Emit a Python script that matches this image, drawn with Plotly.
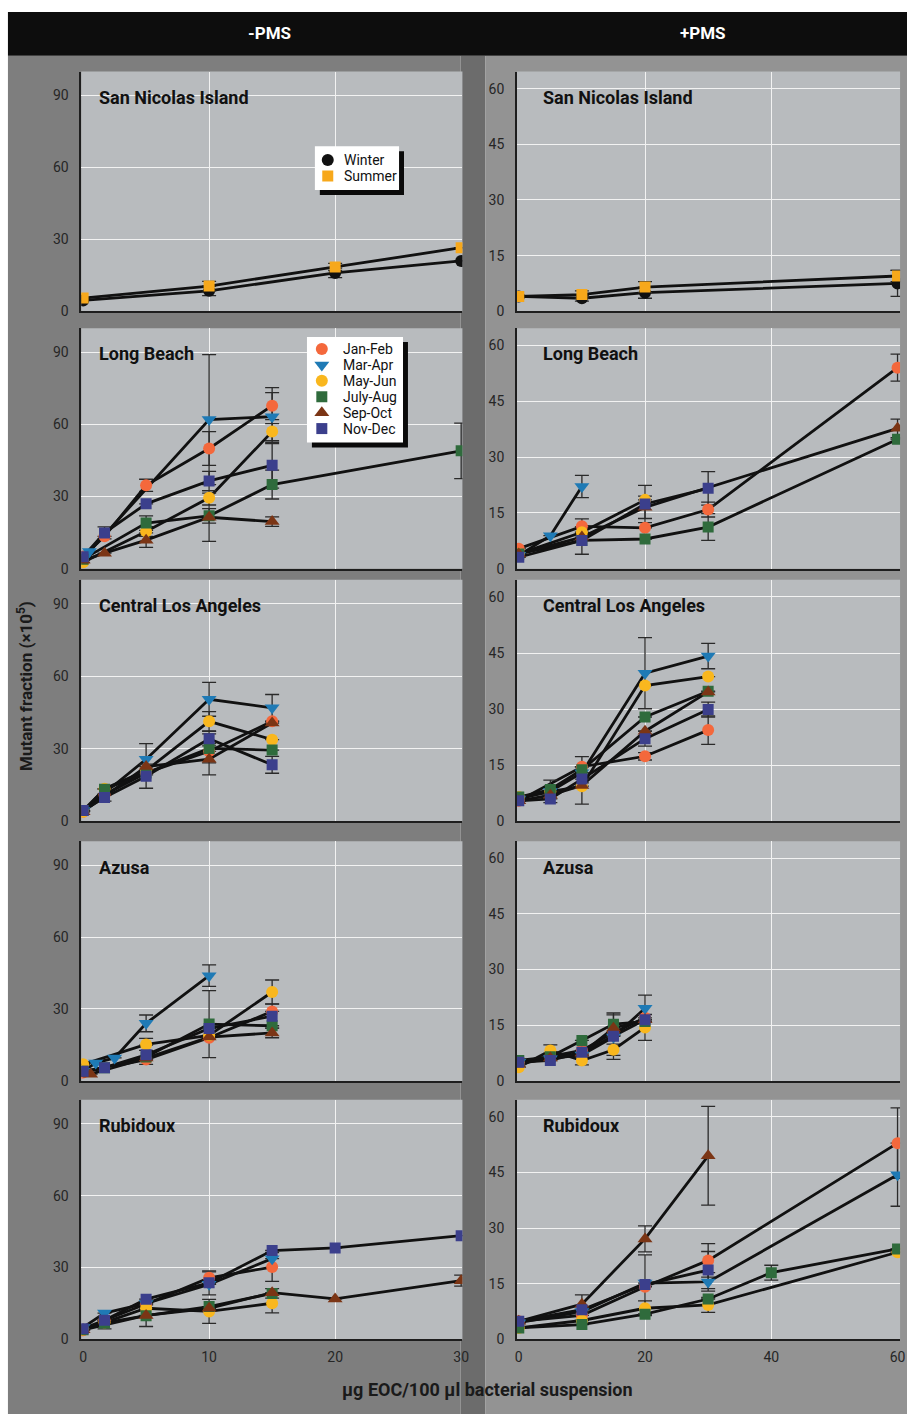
import plotly.graph_objects as go

W, H = 914, 1422

# ---------------- data ----------------
SEASONS = ["Jan-Feb", "Mar-Apr", "May-Jun", "July-Aug", "Sep-Oct", "Nov-Dec"]
SEASON_COLORS = ["#f4683c", "#1f7ab5", "#f9b71e", "#2f6b3c", "#7b3515", "#3b3f8c"]
SEASON_SYMBOLS = ["circle", "triangle-down", "circle", "square", "triangle-up", "square"]
WS_NAMES = ["Winter", "Summer"]
WS_COLORS = ["#111111", "#f7a81b"]
WS_SYMBOLS = ["circle", "square"]

SITES = ["San Nicolas Island", "Long Beach", "Central Los Angeles", "Azusa", "Rubidoux"]
LEFT_XTICKS = [0, 10, 20, 30]
RIGHT_XTICKS = [0, 20, 40, 60]
LEFT_YTICKS = [0, 30, 60, 90]
RIGHT_YTICKS = [0, 15, 30, 45, 60]

# each series: (x, y, error)
sn_minus = {
    "Winter": ([0, 10, 20, 30], [4.5, 8.5, 16, 21], [0, 2, 2, 0]),
    "Summer": ([0, 10, 20, 30], [5.5, 10.5, 18.5, 26.5], [0, 2, 1.5, 0]),
}
sn_plus = {
    "Winter": ([0, 10, 20, 60], [4, 3.5, 5, 7.5], [0, 0.8, 1.5, 3.5]),
    "Summer": ([0, 10, 20, 60], [4, 4.5, 6.5, 9.5], [0, 1, 1.5, 1.5]),
}
lb_minus = {
    "Jan-Feb": ([0, 1.7, 5, 10, 15], [5, 13.5, 34.7, 50, 67.8], [0, 0, 2.5, 7, 7.5]),
    "Mar-Apr": ([0, 0.5, 10, 15], [4, 7.2, 62, 63.2], [0, 0, 27, 10]),
    "May-Jun": ([0, 5, 10, 15], [2.7, 15.5, 29.5, 57], [0, 2, 3, 5]),
    "July-Aug": ([0, 5, 10, 15, 30], [4, 19, 22, 35, 49], [0, 3, 3, 6, 11.5]),
    "Sep-Oct": ([0, 1.7, 5, 10, 15], [3.5, 6.5, 11.9, 21.4, 19.6], [0, 0, 3, 10, 2]),
    "Nov-Dec": ([0, 1.7, 5, 10, 15], [5, 14.9, 27, 36.5, 43], [0, 2.5, 0, 4, 9.5]),
}
lb_plus = {
    "Jan-Feb": ([0, 10, 20, 30, 60], [5.4, 11.4, 11, 15.9, 54], [0, 2, 0, 2, 3.6]),
    "Mar-Apr": ([0, 5, 10], [3.6, 8.9, 22.1], [0, 0, 3]),
    "May-Jun": ([0, 10, 20], [4, 9.8, 18.5], [0, 0, 0]),
    "July-Aug": ([0, 10, 20, 30, 60], [4, 7.6, 8, 11.2, 34.8], [0, 0, 0, 3.6, 0]),
    "Sep-Oct": ([0, 10, 20, 60], [4, 8.5, 16.5, 37.7], [0, 0, 3, 2.5]),
    "Nov-Dec": ([0, 10, 20, 30], [3.1, 7.6, 17.4, 21.6], [0, 3.7, 5, 4.5]),
}
cla_minus = {
    "Jan-Feb": ([0, 1.7, 5, 10, 15], [4, 11, 20, 29, 41.4], [0, 0, 0, 0, 0]),
    "Mar-Apr": ([0, 5, 10, 15], [4.5, 25.7, 50.5, 47], [0, 6.5, 7, 5.5]),
    "May-Jun": ([0, 1.7, 5, 10, 15], [4, 13.5, 21, 41.4, 33.8], [0, 0, 0, 4, 0]),
    "July-Aug": ([0, 1.7, 5, 10, 15], [4.5, 13.3, 20, 30.2, 29.5], [0, 0, 0, 6, 0]),
    "Sep-Oct": ([0, 5, 10, 15], [4, 22.7, 25.7, 40.7], [0, 0, 6.5, 0]),
    "Nov-Dec": ([0, 1.7, 5, 10, 15], [4.5, 9.9, 18.7, 34.2, 23.4], [0, 1.5, 5, 3, 3.5]),
}
cla_plus = {
    "Jan-Feb": ([0, 10, 20, 30], [5.5, 14.6, 17.4, 24.4], [0, 0, 1, 3.8]),
    "Mar-Apr": ([0, 5, 10, 20, 30], [6, 8, 13, 39.6, 44.2], [0, 0, 0, 9.5, 3.4]),
    "May-Jun": ([0, 5, 10, 20, 30], [6.5, 8, 9.4, 36.3, 38.7], [0, 0, 0, 0, 0]),
    "July-Aug": ([0, 5, 10, 20, 30], [6.5, 8.5, 13.8, 27.9, 34.8], [0, 2.5, 3.5, 0, 0]),
    "Sep-Oct": ([0, 5, 10, 20, 30], [5.5, 7, 9.6, 24.1, 34.6], [0, 0, 5, 0, 0]),
    "Nov-Dec": ([0, 5, 10, 20, 30], [5.5, 6, 11.3, 22.1, 29.9], [0, 1, 0, 2, 2]),
}
az_minus = {
    "Jan-Feb": ([0, 5, 10, 15], [3.5, 8.9, 18, 29], [0, 0, 0, 0]),
    "Mar-Apr": ([0, 1, 2.5, 5, 10], [4, 7.5, 9.6, 24, 43.9], [0, 0, 0, 3.5, 4.5]),
    "May-Jun": ([0, 5, 10, 15], [6.9, 15.2, 19, 37.1], [0, 2.5, 0, 5]),
    "July-Aug": ([0, 1.7, 5, 10, 15], [4, 5.5, 10, 23.7, 23], [0, 0, 0, 14, 0]),
    "Sep-Oct": ([0, 0.6, 5, 10, 15], [3, 2.8, 9.5, 18.3, 20], [0, 0, 0, 0, 2]),
    "Nov-Dec": ([0, 1.7, 5, 10, 15], [4, 5.5, 10.9, 21.9, 27], [0, 0, 4, 0, 5]),
}
az_plus = {
    "Jan-Feb": ([0, 5, 10, 15, 20], [5, 6.6, 8.2, 13, 17], [0, 0, 0, 0, 0]),
    "Mar-Apr": ([0, 5, 10, 15, 20], [5, 6, 7, 11.8, 19.6], [0, 0, 0, 6, 3.5]),
    "May-Jun": ([0, 5, 10, 15, 20], [3.7, 8.2, 5.5, 8.4, 14.4], [0, 1.5, 1.2, 1.5, 3.5]),
    "July-Aug": ([0, 5, 10, 15, 20], [5.5, 6.5, 10.9, 15.3, 16], [0, 0, 0, 3, 0]),
    "Sep-Oct": ([0, 5, 10, 15, 20], [4.5, 6.2, 7.5, 14.2, 16.5], [0, 0, 0, 0, 0]),
    "Nov-Dec": ([0, 5, 10, 15, 20], [5, 5.5, 7.7, 12, 16.5], [0, 0, 0, 0, 0]),
}
rb_minus = {
    "Jan-Feb": ([0, 1.7, 5, 10, 15], [3.8, 8, 14.8, 25.7, 30.2], [0, 0, 0, 2.5, 6]),
    "Mar-Apr": ([0, 1.7, 5, 10, 15], [5, 11, 15, 23, 33.7], [0, 0, 0, 0, 0]),
    "May-Jun": ([0, 1.7, 5, 10, 15], [4, 7.1, 13, 11.7, 15.1], [0, 0, 0, 5, 4]),
    "July-Aug": ([0, 1.7, 5, 10, 15], [4, 6.9, 9.9, 13.7, 19.2], [0, 2.5, 4.5, 0, 2]),
    "Sep-Oct": ([0, 5, 10, 15, 20, 30], [4, 10, 13, 19.5, 16.9, 24.5], [0, 0, 0, 0, 0, 2.3]),
    "Nov-Dec": ([0, 1.7, 5, 10, 15, 20, 30], [4.5, 8, 16.8, 23.6, 37.1, 38.2, 43.3], [0, 0, 0, 5, 0, 0, 0]),
}
rb_plus = {
    "Jan-Feb": ([0, 10, 20, 30, 60], [4.9, 6.5, 14.2, 21.3, 52.9], [0, 0, 0, 4.5, 9.5]),
    "Mar-Apr": ([0, 10, 20, 30, 60], [4.5, 7.5, 15.2, 15.5, 44.4], [0, 0, 0, 2.5, 8.5]),
    "May-Jun": ([0, 10, 20, 30, 60], [3.1, 5.1, 8.4, 9.3, 23.5], [0, 0, 2, 2, 0]),
    "July-Aug": ([0, 10, 20, 30, 40, 60], [3.1, 4, 6.8, 10.9, 18, 24.4], [0, 0, 0, 0, 2, 0]),
    "Sep-Oct": ([0, 10, 20, 30], [4.9, 9.5, 27.1, 49.5], [0, 2.5, 3.5, 13.3]),
    "Nov-Dec": ([0, 10, 20, 30], [4.9, 8, 14.8, 18.7], [0, 0, 8, 5]),
}

PANEL_DATA = [
    (sn_minus, sn_plus),
    (lb_minus, lb_plus),
    (cla_minus, cla_plus),
    (az_minus, az_plus),
    (rb_minus, rb_plus),
]

# ---------------- layout geometry (pixels) ----------------
ROWS = [(72, 313), (330, 572), (583, 826), (846, 1087), (1106, 1347)]
COLS = [(80, 465), (520, 907)]
XRANGES = [[-0.15, 30.1], [-0.3, 60.4]]
YRANGES = [[0, 100], [0, 64.6]]

FONT = "Roboto, Liberation Sans, Arial, sans-serif"
TICK_FONT = dict(family=FONT, size=14, color="#262626")


def px(x):
    return x / W


def py(y):
    return 1 - y / H


def style_for(name):
    if name in SEASONS:
        i = SEASONS.index(name)
        return SEASON_COLORS[i], SEASON_SYMBOLS[i]
    i = WS_NAMES.index(name)
    return WS_COLORS[i], WS_SYMBOLS[i]


def msize(symbol):
    if symbol.startswith("triangle"):
        return 13
    if symbol == "square":
        return 11
    return 12


fig = go.Figure()
layout = {}
shapes = []
annotations = []


def add_text(x, y, text, size, color="#111111", xanchor="center", yanchor="middle", angle=0,
             xref="paper", yref="paper"):
    if xref == "paper":
        x, y = px(x), py(y)
    annotations.append(dict(xref=xref, yref=yref, x=x, y=y, xanchor=xanchor, yanchor=yanchor,
                            showarrow=False, text=text, textangle=angle,
                            font=dict(family=FONT, size=size, color=color)))


# backgrounds
shapes.append(dict(type="rect", xref="paper", yref="paper", x0=px(6), x1=px(463), y0=0, y1=py(56),
                   fillcolor="#7e7e7e", line_width=0, layer="below"))
shapes.append(dict(type="rect", xref="paper", yref="paper", x0=px(463), x1=px(488), y0=0, y1=py(56),
                   fillcolor="#6c6c6c", line_width=0, layer="below"))
shapes.append(dict(type="rect", xref="paper", yref="paper", x0=px(488), x1=1, y0=0, y1=py(56),
                   fillcolor="#939393", line_width=0, layer="below"))
shapes.append(dict(type="rect", xref="paper", yref="paper", x0=px(6), x1=1, y0=py(56), y1=py(12),
                   fillcolor="#0d0d0d", line_width=0, layer="below"))

idx = 0
for r, (top, bot) in enumerate(ROWS):
    for c, (lft, rgt) in enumerate(COLS):
        idx += 1
        xa = "x" if idx == 1 else f"x{idx}"
        ya = "y" if idx == 1 else f"y{idx}"
        xkey = "xaxis" if idx == 1 else f"xaxis{idx}"
        ykey = "yaxis" if idx == 1 else f"yaxis{idx}"

        shapes.append(dict(type="rect", xref="paper", yref="paper", x0=px(lft), x1=px(rgt),
                           y0=py(bot), y1=py(top), fillcolor="#b8bbbe", line_width=0, layer="below"))

        xt = LEFT_XTICKS if c == 0 else RIGHT_XTICKS
        yt = LEFT_YTICKS if c == 0 else RIGHT_YTICKS
        layout[xkey] = dict(domain=[px(lft), px(rgt)], range=XRANGES[c], anchor=ya,
                            tickmode="array", tickvals=xt, ticktext=[str(v) for v in xt],
                            showticklabels=(r == len(ROWS) - 1), ticks="", showgrid=False,
                            minor=dict(tickmode="array", tickvals=xt[1:-1], showgrid=True,
                                       gridcolor="#f2f2f2", gridwidth=1.3, ticks=""),
                            zeroline=False, showline=True, linecolor="#1e1e1e", linewidth=1.5,
                            tickfont=TICK_FONT, ticklabelstandoff=4, fixedrange=True)
        layout[ykey] = dict(domain=[py(bot), py(top)], range=YRANGES[c], anchor=xa,
                            tickmode="array", tickvals=yt, ticktext=[str(v) for v in yt],
                            ticks="", showgrid=True, gridcolor="#f2f2f2", gridwidth=1.3,
                            zeroline=False, showline=True, linecolor="#1e1e1e", linewidth=1.5,
                            tickfont=TICK_FONT, ticklabelstandoff=8, fixedrange=True)

        data = PANEL_DATA[r][c]
        # lines with error bars first
        for name, (xs, ys, es) in data.items():
            fig.add_trace(go.Scatter(
                x=xs, y=ys, mode="lines", xaxis=xa, yaxis=ya, showlegend=False,
                line=dict(color="#111111", width=2.8), name=name, hoverinfo="skip",
                error_y=dict(type="data", array=es, visible=True, color="#2a2a2a",
                             thickness=1.3, width=7)))
        # markers on top
        for name, (xs, ys, es) in data.items():
            col, sym = style_for(name)
            fig.add_trace(go.Scatter(
                x=xs, y=ys, mode="markers", xaxis=xa, yaxis=ya, showlegend=False, name=name,
                marker=dict(color=col, symbol=sym, size=msize(sym), opacity=1,
                            line=dict(width=0))))

        # panel title
        add_text(lft + 16 if c == 0 else lft + 24, top + 26, f"<b>{SITES[r]}</b>", 18,
                 xanchor="left")

# header text
add_text(270, 33, "<b>-PMS</b>", 17, color="white")
add_text(708, 33, "<b>+PMS</b>", 17, color="white")
# axis titles
add_text(23, 690, "<b>Mutant fraction (×10<sup>5</sup>)</b>", 17, color="#1a1a1a", angle=-90)
add_text(490, 1397, "<b>µg EOC/100 µl bacterial suspension</b>", 18, color="#1a1a1a")

# ---------------- manual legends (overlay axis in pixel units) ----------------
layout["xaxis11"] = dict(domain=[0, 1], range=[0, W], visible=False, anchor="y11", fixedrange=True)
layout["yaxis11"] = dict(domain=[0, 1], range=[H, 0], visible=False, anchor="x11", fixedrange=True)

LEGENDS = [
    # (box x0, y0, x1, y1, names, first row y, row step, marker x, text x)
    (316, 147, 401, 191, WS_NAMES, 161, 16, 329, 343),
    (308, 339, 405, 445, SEASONS, 351, 16, 323, 342),
]
for (x0, y0, x1, y1, names, ry, step, mx, tx) in LEGENDS:
    shapes.append(dict(type="rect", xref="x11", yref="y11", x0=x0 + 5, x1=x1 + 5, y0=y0 + 5, y1=y1 + 5,
                       fillcolor="#0a0a0a", line_width=0, layer="below"))
    shapes.append(dict(type="rect", xref="x11", yref="y11", x0=x0, x1=x1, y0=y0, y1=y1,
                       fillcolor="white", line_width=0, layer="below"))
    ys = [ry + i * step for i in range(len(names))]
    cols = [style_for(n)[0] for n in names]
    syms = [style_for(n)[1] for n in names]
    fig.add_trace(go.Scatter(x=[mx] * len(names), y=ys, xaxis="x11", yaxis="y11", mode="markers",
                             showlegend=False, hoverinfo="skip",
                             marker=dict(color=cols, symbol=syms, size=[msize(s) for s in syms],
                                         opacity=1, line=dict(width=0))))
    for n, yy in zip(names, ys):
        add_text(tx, yy, n, 14, xanchor="left", xref="x11", yref="y11")

fig.update_layout(
    width=W, height=H, margin=dict(l=0, r=0, t=0, b=0),
    paper_bgcolor="white", plot_bgcolor="rgba(0,0,0,0)",
    shapes=shapes, annotations=annotations, showlegend=False,
    font=dict(family=FONT),
    **layout,
)

fig.write_html("out.html")
